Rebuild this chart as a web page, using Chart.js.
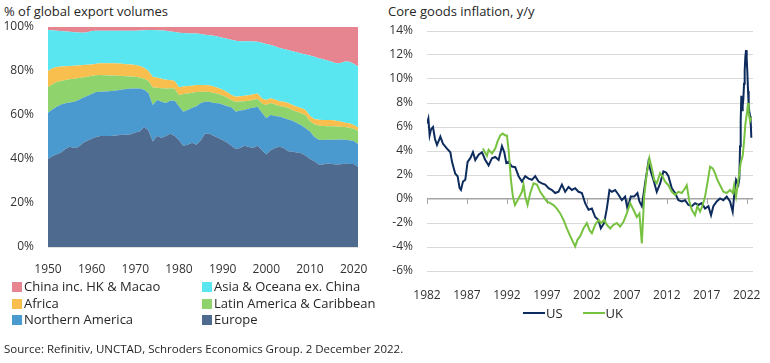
<!DOCTYPE html>
<html>
<head>
<meta charset="utf-8">
<script src="https://cdn.jsdelivr.net/npm/chart.js@4.4.0/dist/chart.umd.min.js"></script>
<style>
  body { margin: 0; width: 770px; height: 363px; position: relative; background: #fff;
         font-family: 'Open Sans', sans-serif; color: #262626; overflow: hidden; }
  .title { position: absolute; top: 3px; font-size: 13px; line-height: 16px; }
  canvas { position: absolute; top: 0; }
  #exportLegend { position: absolute; left: 12px; top: 278px; display: grid;
                  grid-template-columns: 190px auto; font-size: 13px; line-height: 16.5px; }
  #exportLegend .sw { display: inline-block; width: 10px; height: 10px; margin-right: 2px; vertical-align: -1px; }
  #inflationLegend { position: absolute; left: 523px; top: 305px; display: flex; gap: 20px;
                     font-size: 13px; line-height: 16px; }
  #inflationLegend .ln { display: inline-block; width: 22px; height: 2px; margin-right: 1px; vertical-align: 4px; }
  .source { position: absolute; left: 4px; top: 341px; font-size: 11.5px; line-height: 15px; }
</style>
</head>
<body>
<div class="title" style="left:4px">% of global export volumes</div>
<div class="title" style="left:388px">Core goods inflation, y/y</div>
<canvas id="exportChart" width="380" height="280" style="left:0"></canvas>
<canvas id="inflationChart" width="390" height="305" style="left:380px"></canvas>
<div id="exportLegend"></div>
<div id="inflationLegend"></div>
<div class="source">Source: Refinitiv, UNCTAD, Schroders Economics Group. 2 December 2022.</div>

<script>
// ---- left chart: share of global export volumes, % (1950-2021) ----
const exportYears = Array.from({ length: 72 }, (_, i) => 1950 + i);

const europeShare = [40, 41.2, 42.2, 43, 44.5, 45.6, 45, 45.5, 47.3, 48.3,
  49.2, 50, 50.5, 50.5, 50.5, 50.6, 50.8, 51, 51, 51.3,
  52, 52.5, 54.5, 53, 48, 50.5, 49.5, 50.5, 51.5, 50.5,
  48.5, 46, 46.5, 47.4, 46.5, 48.5, 51.5, 51.5, 50.5, 49.5,
  48.5, 47.5, 46, 44.5, 45, 46, 45.5, 45, 46, 44,
  42, 44, 45, 45.6, 45, 43.5, 43.3, 43, 42.6, 41.5,
  40, 39, 37.5, 37.5, 38, 37.7, 37.5, 37.6, 37.8, 37.7,
  37.7, 36.5];
const northAmericaShare = [21, 21.3, 21.6, 21.8, 20.8, 20.1, 21, 21.3, 20.5, 20.3,
  20.4, 20.5, 20.1, 20.2, 20.3, 20.4, 20.5, 20.6, 20.8, 20.7,
  20.1, 19.5, 17, 17, 16.5, 16.3, 16.5, 15, 15, 16,
  15.5, 15.5, 15.8, 15.9, 17.5, 17, 14.5, 14.5, 15, 15.8,
  16.3, 16.5, 17.5, 17, 17, 16.3, 17.5, 18.3, 17.8, 17,
  16.5, 16, 14.6, 13.7, 13.6, 14.5, 14.1, 13.4, 12.7, 12.5,
  12.5, 11, 11.2, 11.1, 10.7, 11.1, 11.3, 11.3, 11, 10.8,
  10.5, 10.3];
const latinAmericaShare = [11.6, 11.5, 11.2, 10.7, 10.6, 10.5, 10.5, 10, 9.2, 8.8,
  8.2, 7.6, 7.6, 7.4, 7.2, 6.9, 6.5, 6.1, 5.8, 5.5,
  5.3, 5.1, 5, 5.4, 8, 5.6, 6.2, 6.5, 5.7, 5.4,
  5, 8, 7.5, 6.8, 6.5, 5.1, 4.6, 4.4, 4.5, 4.2,
  4.1, 4, 3.2, 4.5, 4.1, 4, 3.5, 3.6, 3.5, 4.2,
  6, 5.4, 5.2, 4.8, 5.2, 5.2, 4.8, 5.1, 5.5, 5.9,
  4.7, 5.8, 6.5, 6.4, 6.2, 6.1, 6, 5.8, 5.7, 5.7,
  5.5, 6];
const africaShare = [7.4, 7.3, 6.8, 6.5, 6.3, 6.1, 5.9, 5.7, 5.7, 5.4,
  5.2, 5.2, 5.3, 5.4, 5.5, 5.6, 5.6, 5.6, 5.5, 5.4,
  5.3, 5.2, 5, 4.6, 4.8, 4.6, 4.3, 4, 3.7, 3.6,
  3.6, 3.5, 3.4, 3.2, 3.1, 3, 3, 3, 3, 2.8,
  2.6, 2.5, 2.4, 2.3, 2.4, 2.4, 2.5, 2.5, 2.5, 2.3,
  2.3, 2.2, 2.2, 2.2, 2.2, 2.3, 2.3, 2.3, 2.4, 2.4,
  2.3, 2.4, 2.6, 2.7, 2.8, 2.8, 2.6, 2.3, 2, 2,
  1.8, 1.6];
const asiaShare = [18.6, 17.2, 16.5, 16.2, 15.8, 15.5, 15.2, 15, 14.7, 14.8,
  15.2, 15, 14.8, 14.8, 14.8, 14.8, 14.9, 15, 15.2, 15.4,
  15.6, 16.1, 17, 18.6, 21.3, 21.5, 21.9, 22.3, 22.1, 22.2,
  24.8, 24.3, 24, 23.8, 23.4, 23.2, 22.9, 22.8, 23, 23.3,
  23.6, 24.2, 25.1, 25.4, 25, 24.8, 24.5, 24, 23.5, 25.3,
  25.5, 24.2, 24.2, 24.2, 24, 24, 24.5, 24.7, 24.8, 25.2,
  27.5, 28.3, 28, 27.6, 27.1, 26.5, 26.1, 26.6, 27.8, 28,
  27.8, 27.6];
const chinaShare = [1.4, 1.5, 1.7, 1.8, 2, 2.2, 2.4, 2.5, 2.6, 2.4,
  1.8, 1.7, 1.7, 1.7, 1.7, 1.7, 1.7, 1.7, 1.7, 1.7,
  1.7, 1.6, 1.5, 1.4, 1.4, 1.5, 1.6, 1.7, 2, 2.3,
  2.6, 2.7, 2.8, 2.9, 3, 3.2, 3.5, 3.8, 4, 4.4,
  4.9, 5.3, 5.8, 6.3, 6.5, 6.5, 6.5, 6.6, 6.7, 7.2,
  7.7, 8.2, 8.8, 9.5, 10, 10.5, 11, 11.5, 12, 12.5,
  13, 13.5, 14.2, 14.7, 15.2, 15.8, 16.5, 16.4, 15.7, 15.8,
  16.7, 18];

// ---- right chart: core goods inflation y/y, [year, %] ----
const usInflation = [[1982.0, 6.3], [1982.17, 6.7], [1982.33, 5.3], [1982.5, 5.8], [1982.75, 6.0],
  [1983.0, 5.0], [1983.25, 4.5], [1983.5, 4.9], [1983.67, 5.2], [1984.0, 4.6], [1984.25, 4.4],
  [1984.5, 4.2], [1984.92, 3.9], [1985.13, 3.1], [1985.33, 2.6], [1985.54, 2.1], [1985.83, 1.9],
  [1986.08, 0.9], [1986.25, 0.75], [1986.5, 1.45], [1986.79, 1.6], [1987.08, 3.1], [1987.42, 3.4],
  [1987.75, 3.9], [1988.04, 3.25], [1988.46, 3.7], [1988.88, 3.9], [1989.29, 3.25], [1989.71, 2.8],
  [1990.13, 3.4], [1990.54, 3.5], [1990.96, 3.25], [1991.38, 4.4], [1991.67, 3.9], [1991.92, 3.0],
  [1992.21, 3.1], [1992.63, 2.7], [1993.04, 2.65], [1993.46, 1.9], [1993.88, 1.45], [1994.29, 1.9],
  [1994.71, 1.7], [1995.13, 1.6], [1995.54, 1.9], [1995.96, 1.45], [1996.38, 1.3], [1996.79, 1.2],
  [1997.21, 0.9], [1997.63, 0.75], [1998.04, 0.5], [1998.46, 0.6], [1998.88, 1.2], [1999.29, 0.6],
  [1999.71, 1.0], [2000.13, 0.75], [2000.54, 0.9], [2000.96, 0.6], [2001.38, 0.5], [2001.79, -0.35],
  [2002.21, -0.9], [2002.63, -0.8], [2003.04, -1.5], [2003.46, -1.75], [2003.75, -2.45], [2004.17, -2.0],
  [2004.5, -0.8], [2004.83, 0.75], [2005.13, 0.6], [2005.54, 0.75], [2005.96, 0.35], [2006.38, -0.1],
  [2006.79, 0.2], [2007.08, -0.8], [2007.5, 0.2], [2007.92, 0.2], [2008.33, 0.5], [2008.58, -0.2],
  [2008.88, -0.6], [2009.29, 1.3], [2009.71, 3.1], [2010.0, 2.3], [2010.33, 1.6], [2010.75, 0.6],
  [2011.17, 1.3], [2011.58, 2.3], [2011.92, 2.2], [2012.21, 1.9], [2012.63, 0.9], [2013.04, 0.5],
  [2013.46, -0.1], [2013.88, -0.2], [2014.29, -0.1], [2014.71, -0.5], [2015.13, -0.6], [2015.54, -0.35],
  [2015.96, -0.5], [2016.38, -0.35], [2016.79, -0.8], [2017.21, -0.6], [2017.54, -1.35], [2017.83, -0.6],
  [2018.25, -0.2], [2018.67, 0.05], [2019.08, -0.1], [2019.5, 0.2], [2019.92, -0.2], [2020.25, -1.05],
  [2020.42, 0.2], [2020.67, 1.6], [2020.96, 1.2], [2021.08, 1.7], [2021.17, 4.4], [2021.25, 6.5],
  [2021.33, 8.6], [2021.42, 7.4], [2021.5, 7.8], [2021.58, 8.3], [2021.67, 9.6], [2021.75, 10.7],
  [2021.83, 11.8], [2021.92, 12.4], [2022.0, 11.7], [2022.08, 10.6], [2022.17, 9.0], [2022.25, 7.8],
  [2022.33, 7.3], [2022.42, 6.9], [2022.5, 6.5], [2022.58, 5.1]];
const ukInflation = [[1989.0, 4.2], [1989.25, 3.9], [1989.5, 3.6], [1989.71, 4.1], [1990.13, 3.8],
  [1990.54, 4.2], [1990.83, 4.8], [1991.17, 5.3], [1991.46, 5.45], [1991.79, 5.3], [1992.0, 5.3],
  [1992.21, 4.1], [1992.5, 1.6], [1992.75, 0.2], [1993.0, -0.5], [1993.25, -0.2], [1993.58, 0.2],
  [1993.88, 0.6], [1994.08, 1.2], [1994.29, 0.2], [1994.58, -0.5], [1994.92, 0.5], [1995.33, 1.3],
  [1995.75, 1.2], [1996.17, 0.6], [1996.58, 0.2], [1997.0, -0.2], [1997.42, -0.35], [1997.83, -0.5],
  [1998.25, -0.8], [1998.67, -1.2], [1999.08, -1.75], [1999.5, -2.45], [1999.92, -3.1], [2000.25, -3.55],
  [2000.54, -3.95], [2000.83, -3.4], [2001.17, -3.1], [2001.58, -2.45], [2002.0, -2.0], [2002.33, -2.6],
  [2002.63, -2.85], [2003.04, -2.15], [2003.46, -1.75], [2003.79, -2.0], [2004.17, -1.75], [2004.5, -2.15],
  [2004.92, -2.45], [2005.33, -2.15], [2005.75, -2.0], [2006.17, -2.3], [2006.58, -1.9], [2007.0, -1.2],
  [2007.42, -0.35], [2007.83, -0.9], [2008.25, -1.5], [2008.58, -1.2], [2008.88, -3.7], [2009.17, 0.2],
  [2009.5, 2.15], [2009.83, 3.4], [2010.13, 2.55], [2010.42, 1.6], [2010.75, 1.3], [2011.17, 2.15],
  [2011.5, 1.85], [2011.79, 1.45], [2012.21, 1.15], [2012.63, 0.6], [2013.04, 0.35], [2013.46, 0.6],
  [2013.88, 0.5], [2014.29, 0.9], [2014.5, 1.15], [2014.83, -0.2], [2015.13, -0.9], [2015.54, -1.35],
  [2015.83, -0.6], [2016.17, -1.05], [2016.5, -0.5], [2016.79, 0.2], [2017.08, 1.3], [2017.42, 2.7],
  [2017.75, 2.55], [2018.04, 2.15], [2018.33, 1.6], [2018.67, 1.15], [2019.08, 0.6], [2019.5, 0.5],
  [2019.92, 0.75], [2020.25, 0.5], [2020.42, 1.15], [2020.67, 0.2], [2020.96, 1.6], [2021.25, 3.0],
  [2021.5, 3.6], [2021.67, 4.8], [2021.83, 6.2], [2022.0, 7.0], [2022.17, 8.0], [2022.25, 7.2],
  [2022.42, 6.5], [2022.58, 6.8]];
const inflationTickYears = [1982, 1987, 1992, 1997, 2002, 2007, 2012, 2017, 2022];

Chart.defaults.font.family = "'Open Sans', sans-serif";
Chart.defaults.font.size = 12;
Chart.defaults.color = '#333';

// stacking order bottom -> top
const regions = [
  { label: 'Europe', values: europeShare, color: '#4e6a8e' },
  { label: 'Northern America', values: northAmericaShare, color: '#4a9ad0' },
  { label: 'Latin America & Caribbean', values: latinAmericaShare, color: '#8fd36c' },
  { label: 'Africa', values: africaShare, color: '#f8bf4f' },
  { label: 'Asia & Oceana ex. China', values: asiaShare, color: '#5ae6f0' },
  { label: 'China inc. HK & Macao', values: chinaShare, color: '#e6848f' },
];

new Chart(document.getElementById('exportChart'), {
  type: 'line',
  data: {
    datasets: regions.map((r, i) => ({
      label: r.label,
      data: r.values.map((v, j) => ({ x: exportYears[j], y: v })),
      backgroundColor: r.color,
      borderWidth: 0,
      pointRadius: 0,
      fill: i === 0 ? 'origin' : '-1',
    })),
  },
  options: {
    responsive: false,
    animation: false,
    layout: { padding: { top: 27, right: 22, left: 0, bottom: 0 } },
    plugins: { legend: { display: false }, tooltip: { enabled: false } },
    scales: {
      x: {
        type: 'linear', min: 1950, max: 2021,
        grid: { display: false }, border: { display: false },
        ticks: { stepSize: 10, includeBounds: false, maxRotation: 0, padding: 7, callback: v => String(v) },
        afterFit: s => { s.height = 33; },
      },
      y: {
        stacked: true, min: 0, max: 100, z: 1,
        grid: { color: 'rgba(0,0,0,0.12)', drawTicks: false }, border: { display: false },
        ticks: { stepSize: 20, padding: 14, callback: v => v + '%' },
        afterFit: s => { s.width = 48; },
      },
    },
  },
});

// legend in the reference order: top of stack first, two columns
document.getElementById('exportLegend').innerHTML = regions.slice().reverse().map(r =>
  `<div><span class="sw" style="background:${r.color}"></span>${r.label}</div>`).join('');

// short tick marks on the zero line
const zeroTicks = {
  id: 'zeroTicks',
  beforeDatasetsDraw(chart) {
    const { ctx, scales: { x, y } } = chart;
    const y0 = y.getPixelForValue(0);
    ctx.save();
    ctx.strokeStyle = '#a6a6a6';
    ctx.lineWidth = 1;
    x.ticks.forEach(t => {
      const px = Math.round(x.getPixelForValue(t.value)) + 0.5;
      ctx.beginPath();
      ctx.moveTo(px, y0);
      ctx.lineTo(px, y0 + 5);
      ctx.stroke();
    });
    ctx.restore();
  },
};

const inflationSeries = [
  { label: 'US', points: usInflation, color: '#0d2b5c', order: 1 },
  { label: 'UK', points: ukInflation, color: '#78c242', order: 0 },
];

new Chart(document.getElementById('inflationChart'), {
  type: 'line',
  data: {
    datasets: inflationSeries.map(s => ({
      label: s.label,
      data: s.points.map(([x, y]) => ({ x, y })),
      borderColor: s.color,
      borderWidth: 2,
      pointRadius: 0,
      tension: 0,
      order: s.order,
    })),
  },
  options: {
    responsive: false,
    animation: false,
    layout: { padding: { top: 31, right: 17, left: 0, bottom: 0 } },
    plugins: { legend: { display: false }, tooltip: { enabled: false } },
    scales: {
      x: {
        type: 'linear', min: 1982, max: 2022.79,
        grid: { display: false }, border: { display: false },
        afterBuildTicks: s => { s.ticks = inflationTickYears.map(v => ({ value: v })); },
        ticks: { maxRotation: 0, padding: 9, autoSkip: false, callback: v => String(v) },
        afterFit: s => { s.height = 34; },
      },
      y: {
        min: -6, max: 14,
        grid: {
          drawTicks: false,
          color: c => (c.tick && c.tick.value === 0 ? '#a6a6a6' : '#d9d9d9'),
          lineWidth: c => (c.tick && c.tick.value === 0 ? 1.5 : 1),
        },
        border: { display: false },
        ticks: { stepSize: 2, padding: 14, callback: v => v + '%' },
        afterFit: s => { s.width = 47; },
      },
    },
  },
  plugins: [zeroTicks],
});

document.getElementById('inflationLegend').innerHTML = inflationSeries.map(s =>
  `<div><span class="ln" style="background:${s.color}"></span>${s.label}</div>`).join('');
</script>
</body>
</html>
